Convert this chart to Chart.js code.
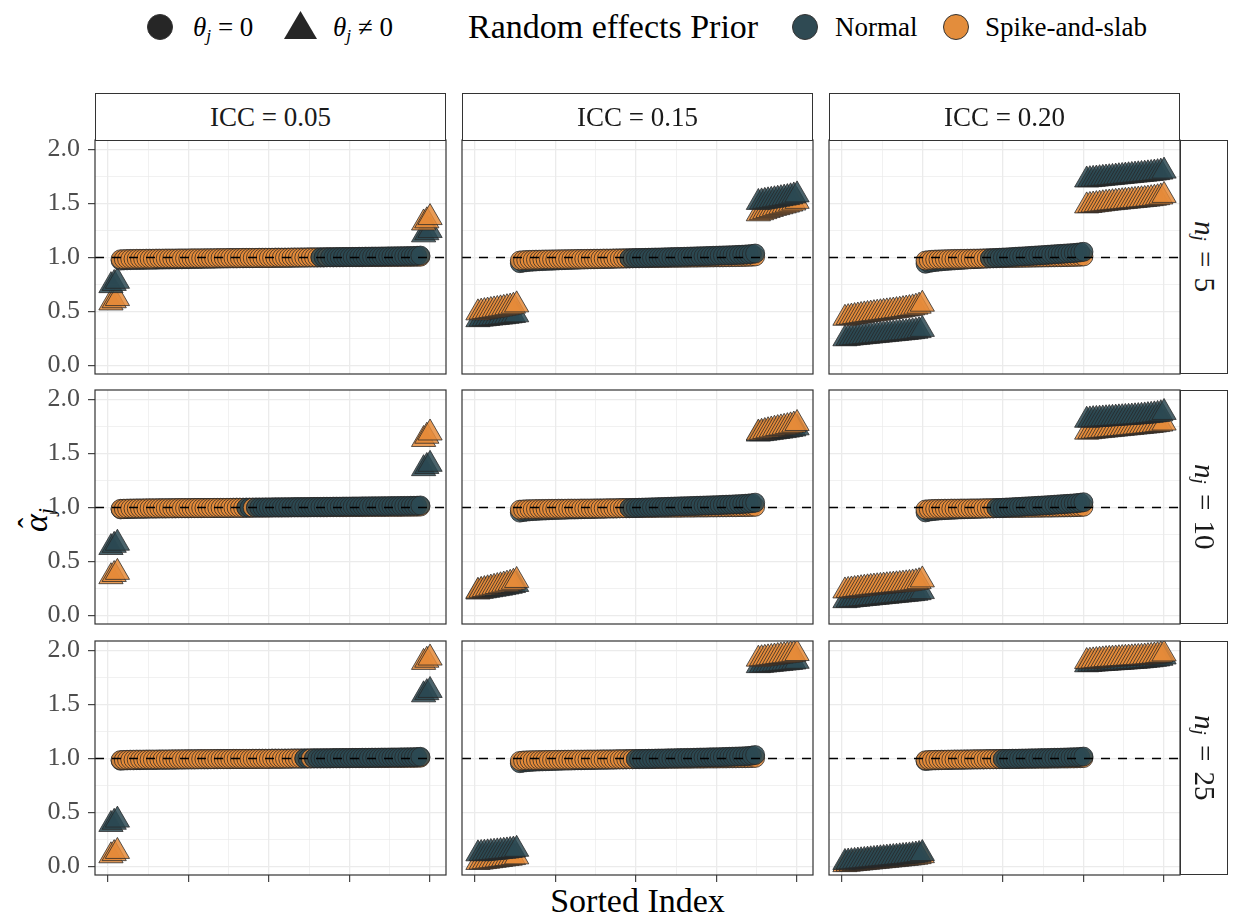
<!DOCTYPE html>
<html>
<head>
<meta charset="utf-8">
<script src="https://cdn.jsdelivr.net/npm/chart.js@4.4.1/dist/chart.umd.min.js"></script>
<style>
  body { margin: 0; background: #fff; }
  #page { position: relative; width: 1233px; height: 919px; overflow: hidden;
          font-family: 'Liberation Serif', 'DejaVu Serif', serif; color: #000; }
  canvas.panel { position: absolute; }
  .strip-top, .strip-right { position: absolute; box-sizing: border-box; border: 1px solid #333;
          background: #fff; display: flex; align-items: center; justify-content: center; color: #1a1a1a; }
  .strip-top { font-size: 27px; }
  .strip-right { font-size: 29px; }
  .strip-right span { writing-mode: vertical-rl; white-space: nowrap; word-spacing: 3px; }
  sub { font-size: 65%; vertical-align: -0.3em; line-height: 0; }
  .lab { position: absolute; top: 0; height: 54px; line-height: 54px; font-size: 27px; white-space: nowrap; }
  .ltitle { position: absolute; top: 0; height: 54px; line-height: 54px; font-size: 34px; white-space: nowrap; }
  .key { position: absolute; box-sizing: border-box; }
  .key.circle { width: 26px; height: 26px; top: 14px; border-radius: 50%; border: 1px solid #333; }
  .key.tri { width: 33px; height: 28px; top: 11px; background: #262626;
             clip-path: polygon(50% 0, 100% 100%, 0 100%); }
  #xtitle { position: absolute; left: 95px; width: 1085px; top: 882px; text-align: center; font-size: 34px; }
  #ytitle { position: absolute; left: 36px; top: 520px; font-size: 34px; white-space: nowrap; line-height: 1;
            transform: translate(-50%, -50%) rotate(-90deg); }
  #ytitle .hat { position: relative; display: inline-block; }
  #ytitle .circ { position: absolute; left: 0.13em; top: -0.12em; font-style: normal; font-size: 0.9em; }
</style>
</head>
<body>
<div id="page">
  <div id="legend">
    <span class="key circle" style="left:147px; background:#262626"></span>
    <span class="lab" style="left:193px"><i>θ<sub>j</sub></i> = 0</span>
    <span class="key tri" style="left:284px"></span>
    <span class="lab" style="left:333px"><i>θ<sub>j</sub></i> ≠ 0</span>
    <span class="ltitle" style="left:468px">Random effects Prior</span>
    <span class="key circle" id="keyNormal" style="left:792px"></span>
    <span class="lab" style="left:835px">Normal</span>
    <span class="key circle" id="keySpike" style="left:943px"></span>
    <span class="lab" style="left:985px">Spike-and-slab</span>
  </div>
  <div id="ytitle"><span class="hat"><i>α</i><span class="circ">ˆ</span></span><sub><i>j</i></sub></div>
  <div id="xtitle">Sorted Index</div>
</div>
<script>
// facets
const ICC_LABELS = ["ICC = 0.05", "ICC = 0.15", "ICC = 0.20"];
const N_LABELS = ["5", "10", "25"];
// number of non-null groups (θj ≠ 0) at the low and high end of each sorted column
const NONNULL_LOW = [3, 13, 25];
const NONNULL_HIGH = [3, 13, 25];

const X_TICKS = [0, 25, 50, 75, 100];
const X_MINOR = [12.5, 37.5, 62.5, 87.5];
const Y_TICKS = [0, 0.5, 1, 1.5, 2];
const Y_MINOR = [0.25, 0.75, 1.25, 1.75];
const REFERENCE_ALPHA = 1;

// sorted alpha_j estimates, index 1..100
const NORMAL_N5_ICC05 = [
  0.74, 0.76, 0.78,
  0.972, 0.974, 0.975, 0.976, 0.977, 0.977, 0.978, 0.978, 0.979, 0.979,
  0.980, 0.980, 0.981, 0.981, 0.982, 0.982, 0.983, 0.983, 0.984, 0.984,
  0.985, 0.985, 0.986, 0.986, 0.987, 0.987, 0.988, 0.988, 0.989, 0.989,
  0.990, 0.990, 0.991, 0.991, 0.992, 0.992, 0.992, 0.993, 0.993, 0.994,
  0.994, 0.994, 0.995, 0.995, 0.995, 0.996, 0.996, 0.996, 0.997, 0.997,
  0.997, 0.998, 0.998, 0.998, 0.999, 0.999, 1.000, 1.000, 1.000, 1.001,
  1.001, 1.001, 1.002, 1.002, 1.003, 1.003, 1.003, 1.004, 1.004, 1.005,
  1.005, 1.005, 1.006, 1.006, 1.007, 1.007, 1.008, 1.008, 1.009, 1.009,
  1.009, 1.010, 1.010, 1.011, 1.011, 1.012, 1.012, 1.013, 1.013, 1.014,
  1.014, 1.015, 1.016, 1.018,
  1.21, 1.23, 1.25
];
const SPIKE_N5_ICC05 = [
  0.58, 0.60, 0.62,
  0.984, 0.985, 0.986, 0.987, 0.987, 0.988, 0.988, 0.988, 0.989, 0.989,
  0.989, 0.990, 0.990, 0.990, 0.991, 0.991, 0.991, 0.991, 0.992, 0.992,
  0.992, 0.992, 0.993, 0.993, 0.993, 0.993, 0.994, 0.994, 0.994, 0.994,
  0.995, 0.995, 0.995, 0.995, 0.996, 0.996, 0.996, 0.996, 0.997, 0.997,
  0.997, 0.997, 0.997, 0.998, 0.998, 0.998, 0.998, 0.998, 0.999, 0.999,
  0.999, 0.999, 0.999, 1.000, 1.000, 1.000, 1.000, 1.000, 1.001, 1.001,
  1.001, 1.001, 1.001, 1.001, 1.002, 1.002, 1.002, 1.002, 1.002, 1.002,
  1.003, 1.003, 1.003, 1.003, 1.003, 1.003, 1.004, 1.004, 1.004, 1.004,
  1.004, 1.004, 1.005, 1.005, 1.005, 1.005, 1.005, 1.006, 1.006, 1.006,
  1.006, 1.007, 1.007, 1.008,
  1.32, 1.34, 1.37
];
const NORMAL_N10_ICC05 = [
  0.63, 0.65, 0.67,
  0.983, 0.985, 0.986, 0.987, 0.987, 0.988, 0.988, 0.989, 0.989, 0.990,
  0.990, 0.990, 0.991, 0.991, 0.991, 0.992, 0.992, 0.992, 0.993, 0.993,
  0.993, 0.993, 0.994, 0.994, 0.994, 0.994, 0.995, 0.995, 0.995, 0.995,
  0.996, 0.996, 0.996, 0.997, 0.997, 0.997, 0.998, 0.998, 0.998, 0.999,
  0.999, 0.999, 1.000, 1.000, 1.000, 1.001, 1.001, 1.001, 1.002, 1.002,
  1.002, 1.003, 1.003, 1.003, 1.004, 1.004, 1.004, 1.005, 1.005, 1.005,
  1.006, 1.006, 1.006, 1.007, 1.007, 1.007, 1.008, 1.008, 1.008, 1.009,
  1.009, 1.009, 1.010, 1.010, 1.010, 1.011, 1.011, 1.011, 1.012, 1.012,
  1.012, 1.013, 1.013, 1.013, 1.014, 1.014, 1.014, 1.015, 1.015, 1.015,
  1.016, 1.016, 1.017, 1.019,
  1.36, 1.38, 1.40
];
const SPIKE_N10_ICC05 = [
  0.36, 0.38, 0.40,
  0.988, 0.989, 0.990, 0.991, 0.991, 0.992, 0.992, 0.992, 0.993, 0.993,
  0.993, 0.993, 0.994, 0.994, 0.994, 0.994, 0.994, 0.995, 0.995, 0.995,
  0.995, 0.995, 0.995, 0.996, 0.996, 0.996, 0.996, 0.996, 0.996, 0.997,
  0.997, 0.997, 0.997, 0.997, 0.997, 0.998, 0.998, 0.998, 0.998, 0.998,
  0.998, 0.999, 0.999, 0.999, 0.999, 0.999, 0.999, 1.000, 1.000, 1.000,
  1.000, 1.000, 1.000, 1.001, 1.001, 1.001, 1.001, 1.001, 1.001, 1.002,
  1.002, 1.002, 1.002, 1.002, 1.002, 1.003, 1.003, 1.003, 1.003, 1.003,
  1.003, 1.004, 1.004, 1.004, 1.004, 1.004, 1.004, 1.005, 1.005, 1.005,
  1.005, 1.005, 1.005, 1.006, 1.006, 1.006, 1.006, 1.006, 1.007, 1.007,
  1.007, 1.008, 1.008, 1.009,
  1.63, 1.66, 1.69
];
const NORMAL_N25_ICC05 = [
  0.39, 0.41, 0.43,
  0.980, 0.982, 0.983, 0.984, 0.984, 0.985, 0.985, 0.986, 0.986, 0.987,
  0.987, 0.987, 0.988, 0.988, 0.988, 0.989, 0.989, 0.989, 0.990, 0.990,
  0.990, 0.991, 0.991, 0.991, 0.992, 0.992, 0.992, 0.992, 0.993, 0.993,
  0.993, 0.994, 0.994, 0.994, 0.994, 0.995, 0.995, 0.995, 0.995, 0.996,
  0.996, 0.996, 0.996, 0.997, 0.997, 0.997, 0.997, 0.998, 0.998, 0.998,
  0.998, 0.999, 0.999, 0.999, 1.000, 1.000, 1.000, 1.001, 1.001, 1.001,
  1.002, 1.002, 1.002, 1.003, 1.003, 1.003, 1.004, 1.004, 1.004, 1.005,
  1.005, 1.005, 1.006, 1.006, 1.006, 1.007, 1.007, 1.007, 1.008, 1.008,
  1.008, 1.009, 1.009, 1.009, 1.010, 1.010, 1.010, 1.011, 1.011, 1.012,
  1.012, 1.013, 1.014, 1.016,
  1.59, 1.61, 1.63
];
const SPIKE_N25_ICC05 = [
  0.10, 0.12, 0.14,
  0.986, 0.987, 0.988, 0.989, 0.989, 0.990, 0.990, 0.990, 0.991, 0.991,
  0.991, 0.991, 0.992, 0.992, 0.992, 0.992, 0.993, 0.993, 0.993, 0.993,
  0.994, 0.994, 0.994, 0.994, 0.994, 0.995, 0.995, 0.995, 0.995, 0.995,
  0.996, 0.996, 0.996, 0.996, 0.996, 0.997, 0.997, 0.997, 0.997, 0.997,
  0.997, 0.998, 0.998, 0.998, 0.998, 0.998, 0.998, 0.999, 0.999, 0.999,
  0.999, 0.999, 0.999, 1.000, 1.000, 1.000, 1.000, 1.000, 1.000, 1.001,
  1.001, 1.001, 1.001, 1.001, 1.001, 1.001, 1.002, 1.002, 1.002, 1.002,
  1.002, 1.002, 1.003, 1.003, 1.003, 1.003, 1.003, 1.003, 1.004, 1.004,
  1.004, 1.004, 1.004, 1.004, 1.005, 1.005, 1.005, 1.005, 1.005, 1.006,
  1.006, 1.006, 1.007, 1.008,
  1.89, 1.91, 1.93
];
const NORMAL_N5_ICC15 = [
  0.425, 0.430, 0.433, 0.436, 0.440, 0.443, 0.446, 0.449, 0.452, 0.456, 0.460, 0.464, 0.470,
  0.948, 0.953, 0.957, 0.960, 0.962, 0.964, 0.966, 0.967, 0.969, 0.970,
  0.971, 0.972, 0.974, 0.975, 0.976, 0.977, 0.978, 0.979, 0.980, 0.981,
  0.982, 0.983, 0.984, 0.984, 0.985, 0.986, 0.987, 0.988, 0.988, 0.989,
  0.990, 0.991, 0.991, 0.992, 0.993, 0.994, 0.995, 0.995, 0.996, 0.997,
  0.998, 0.999, 1.000, 1.000, 1.001, 1.002, 1.003, 1.004, 1.005, 1.006,
  1.006, 1.007, 1.008, 1.009, 1.010, 1.011, 1.012, 1.013, 1.014, 1.015,
  1.016, 1.017, 1.018, 1.019, 1.020, 1.021, 1.022, 1.024, 1.025, 1.026,
  1.028, 1.030, 1.033, 1.037,
  1.510, 1.515, 1.520, 1.525, 1.530, 1.535, 1.540, 1.545, 1.550, 1.555, 1.562, 1.570, 1.580
];
const SPIKE_N5_ICC15 = [
  0.488, 0.495, 0.500, 0.505, 0.510, 0.515, 0.520, 0.525, 0.530, 0.536, 0.542, 0.550, 0.562,
  0.972, 0.975, 0.977, 0.978, 0.979, 0.980, 0.980, 0.981, 0.982, 0.982,
  0.983, 0.983, 0.984, 0.984, 0.985, 0.985, 0.986, 0.986, 0.987, 0.987,
  0.987, 0.988, 0.988, 0.989, 0.989, 0.989, 0.990, 0.990, 0.990, 0.991,
  0.991, 0.991, 0.992, 0.992, 0.992, 0.993, 0.993, 0.993, 0.994, 0.994,
  0.994, 0.995, 0.995, 0.995, 0.996, 0.996, 0.996, 0.997, 0.997, 0.997,
  0.998, 0.998, 0.998, 0.999, 0.999, 0.999, 1.000, 1.000, 1.000, 1.001,
  1.001, 1.002, 1.002, 1.002, 1.003, 1.003, 1.004, 1.004, 1.005, 1.005,
  1.006, 1.007, 1.008, 1.010,
  1.405, 1.415, 1.425, 1.435, 1.445, 1.455, 1.462, 1.470, 1.478, 1.486, 1.495, 1.505, 1.520
];
const NORMAL_N10_ICC15 = [
  0.218, 0.224, 0.229, 0.234, 0.239, 0.244, 0.249, 0.254, 0.259, 0.265, 0.271, 0.278, 0.288,
  0.953, 0.958, 0.962, 0.965, 0.967, 0.969, 0.971, 0.972, 0.973, 0.975,
  0.976, 0.977, 0.978, 0.979, 0.980, 0.981, 0.982, 0.982, 0.983, 0.984,
  0.985, 0.986, 0.986, 0.987, 0.988, 0.989, 0.989, 0.990, 0.991, 0.991,
  0.992, 0.993, 0.994, 0.994, 0.995, 0.996, 0.997, 0.998, 0.999, 1.000,
  1.001, 1.002, 1.003, 1.004, 1.005, 1.006, 1.007, 1.008, 1.009, 1.010,
  1.011, 1.012, 1.013, 1.014, 1.015, 1.016, 1.017, 1.018, 1.019, 1.020,
  1.021, 1.022, 1.023, 1.025, 1.026, 1.027, 1.028, 1.030, 1.031, 1.033,
  1.035, 1.037, 1.040, 1.045,
  1.680, 1.684, 1.688, 1.692, 1.696, 1.700, 1.704, 1.708, 1.712, 1.717, 1.722, 1.728, 1.738
];
const SPIKE_N10_ICC15 = [
  0.226, 0.234, 0.241, 0.248, 0.255, 0.262, 0.269, 0.276, 0.283, 0.291, 0.299, 0.309, 0.325,
  0.980, 0.982, 0.984, 0.985, 0.985, 0.986, 0.986, 0.987, 0.987, 0.988,
  0.988, 0.988, 0.989, 0.989, 0.989, 0.990, 0.990, 0.990, 0.990, 0.991,
  0.991, 0.991, 0.991, 0.992, 0.992, 0.992, 0.992, 0.993, 0.993, 0.993,
  0.993, 0.994, 0.994, 0.994, 0.994, 0.995, 0.995, 0.995, 0.995, 0.996,
  0.996, 0.996, 0.996, 0.997, 0.997, 0.997, 0.997, 0.998, 0.998, 0.998,
  0.998, 0.999, 0.999, 0.999, 0.999, 1.000, 1.000, 1.000, 1.000, 1.001,
  1.001, 1.001, 1.002, 1.002, 1.002, 1.003, 1.003, 1.003, 1.004, 1.004,
  1.004, 1.005, 1.006, 1.007,
  1.690, 1.697, 1.704, 1.711, 1.718, 1.725, 1.731, 1.737, 1.743, 1.749, 1.756, 1.764, 1.778
];
const NORMAL_N25_ICC15 = [
  0.118, 0.121, 0.124, 0.127, 0.130, 0.133, 0.136, 0.139, 0.142, 0.145, 0.149, 0.153, 0.160,
  0.957, 0.962, 0.966, 0.968, 0.970, 0.972, 0.973, 0.974, 0.975, 0.976,
  0.977, 0.978, 0.979, 0.980, 0.981, 0.981, 0.982, 0.983, 0.984, 0.984,
  0.985, 0.986, 0.986, 0.987, 0.988, 0.988, 0.989, 0.989, 0.990, 0.990,
  0.991, 0.992, 0.992, 0.993, 0.994, 0.994, 0.995, 0.996, 0.996, 0.997,
  0.998, 0.998, 0.999, 1.000, 1.000, 1.001, 1.002, 1.002, 1.003, 1.004,
  1.004, 1.005, 1.006, 1.006, 1.007, 1.008, 1.009, 1.009, 1.010, 1.011,
  1.012, 1.012, 1.013, 1.014, 1.015, 1.016, 1.017, 1.018, 1.019, 1.020,
  1.022, 1.024, 1.027, 1.032,
  1.860, 1.863, 1.866, 1.869, 1.872, 1.875, 1.878, 1.881, 1.884, 1.887, 1.890, 1.894, 1.900
];
const SPIKE_N25_ICC15 = [
  0.038, 0.042, 0.046, 0.050, 0.054, 0.058, 0.062, 0.066, 0.070, 0.074, 0.078, 0.083, 0.090,
  0.978, 0.981, 0.983, 0.984, 0.985, 0.985, 0.986, 0.986, 0.987, 0.987,
  0.987, 0.988, 0.988, 0.988, 0.989, 0.989, 0.989, 0.990, 0.990, 0.990,
  0.990, 0.991, 0.991, 0.991, 0.991, 0.992, 0.992, 0.992, 0.992, 0.992,
  0.993, 0.993, 0.993, 0.993, 0.994, 0.994, 0.994, 0.994, 0.995, 0.995,
  0.995, 0.995, 0.996, 0.996, 0.996, 0.996, 0.997, 0.997, 0.997, 0.997,
  0.998, 0.998, 0.998, 0.998, 0.999, 0.999, 0.999, 0.999, 1.000, 1.000,
  1.000, 1.000, 1.001, 1.001, 1.001, 1.002, 1.002, 1.002, 1.003, 1.003,
  1.003, 1.004, 1.005, 1.006,
  1.920, 1.924, 1.928, 1.932, 1.936, 1.940, 1.944, 1.948, 1.952, 1.956, 1.960, 1.965, 1.972
];
const NORMAL_N5_ICC20 = [
  0.248, 0.252, 0.256, 0.259, 0.262, 0.265, 0.268, 0.271, 0.274, 0.277,
  0.280, 0.283, 0.286, 0.289, 0.292, 0.295, 0.298, 0.301, 0.304, 0.307,
  0.310, 0.314, 0.318, 0.324, 0.335,
  0.943, 0.950, 0.955, 0.959, 0.962, 0.965, 0.968, 0.970, 0.972, 0.974,
  0.976, 0.978, 0.980, 0.982, 0.984, 0.985, 0.987, 0.988, 0.990, 0.991,
  0.993, 0.994, 0.996, 0.998, 1.000, 1.001, 1.003, 1.005, 1.007, 1.009,
  1.010, 1.012, 1.014, 1.016, 1.018, 1.020, 1.022, 1.024, 1.026, 1.028,
  1.030, 1.032, 1.034, 1.036, 1.038, 1.040, 1.042, 1.045, 1.048, 1.053,
  1.718, 1.721, 1.724, 1.727, 1.730, 1.733, 1.736, 1.739, 1.742, 1.745,
  1.748, 1.751, 1.754, 1.757, 1.760, 1.763, 1.766, 1.769, 1.772, 1.775,
  1.778, 1.782, 1.786, 1.791, 1.800
];
const SPIKE_N5_ICC20 = [
  0.438, 0.444, 0.449, 0.454, 0.459, 0.464, 0.469, 0.473, 0.477, 0.481,
  0.485, 0.489, 0.493, 0.497, 0.501, 0.505, 0.509, 0.513, 0.518, 0.523,
  0.528, 0.534, 0.541, 0.550, 0.568,
  0.972, 0.976, 0.979, 0.981, 0.982, 0.983, 0.984, 0.985, 0.986, 0.987,
  0.987, 0.988, 0.988, 0.989, 0.989, 0.990, 0.990, 0.991, 0.991, 0.992,
  0.992, 0.993, 0.993, 0.994, 0.994, 0.995, 0.995, 0.996, 0.996, 0.997,
  0.997, 0.998, 0.998, 0.999, 0.999, 1.000, 1.000, 1.001, 1.001, 1.002,
  1.002, 1.003, 1.003, 1.004, 1.004, 1.005, 1.006, 1.007, 1.008, 1.010,
  1.478, 1.482, 1.486, 1.490, 1.494, 1.498, 1.502, 1.505, 1.508, 1.511,
  1.514, 1.517, 1.520, 1.523, 1.526, 1.529, 1.532, 1.535, 1.538, 1.541,
  1.545, 1.549, 1.554, 1.561, 1.575
];
const NORMAL_N10_ICC20 = [
  0.138, 0.142, 0.146, 0.149, 0.152, 0.155, 0.158, 0.161, 0.164, 0.167,
  0.170, 0.173, 0.176, 0.179, 0.182, 0.185, 0.188, 0.191, 0.194, 0.197,
  0.200, 0.203, 0.207, 0.212, 0.222,
  0.955, 0.962, 0.966, 0.969, 0.972, 0.974, 0.976, 0.977, 0.979, 0.980,
  0.982, 0.983, 0.984, 0.985, 0.986, 0.987, 0.988, 0.989, 0.990, 0.991,
  0.992, 0.993, 0.995, 0.996, 0.998, 1.000, 1.001, 1.003, 1.005, 1.006,
  1.008, 1.010, 1.011, 1.013, 1.015, 1.017, 1.018, 1.020, 1.022, 1.024,
  1.026, 1.028, 1.030, 1.032, 1.034, 1.036, 1.038, 1.041, 1.044, 1.049,
  1.808, 1.811, 1.814, 1.816, 1.818, 1.820, 1.822, 1.824, 1.826, 1.828,
  1.830, 1.832, 1.834, 1.836, 1.838, 1.840, 1.842, 1.845, 1.848, 1.851,
  1.854, 1.858, 1.862, 1.868, 1.880
];
const SPIKE_N10_ICC20 = [
  0.228, 0.233, 0.237, 0.241, 0.245, 0.249, 0.253, 0.257, 0.261, 0.264,
  0.267, 0.270, 0.273, 0.276, 0.279, 0.282, 0.285, 0.288, 0.291, 0.294,
  0.298, 0.302, 0.307, 0.314, 0.330,
  0.982, 0.984, 0.986, 0.987, 0.988, 0.988, 0.989, 0.989, 0.990, 0.990,
  0.990, 0.991, 0.991, 0.991, 0.992, 0.992, 0.992, 0.992, 0.993, 0.993,
  0.993, 0.993, 0.994, 0.994, 0.994, 0.995, 0.995, 0.995, 0.996, 0.996,
  0.996, 0.997, 0.997, 0.997, 0.998, 0.998, 0.998, 0.999, 0.999, 0.999,
  1.000, 1.000, 1.001, 1.001, 1.002, 1.002, 1.003, 1.004, 1.005, 1.007,
  1.698, 1.702, 1.706, 1.709, 1.712, 1.715, 1.718, 1.721, 1.724, 1.727,
  1.730, 1.733, 1.736, 1.739, 1.742, 1.745, 1.748, 1.751, 1.754, 1.757,
  1.760, 1.764, 1.768, 1.773, 1.782
];
const NORMAL_N25_ICC20 = [
  0.038, 0.042, 0.045, 0.048, 0.051, 0.054, 0.057, 0.060, 0.063, 0.066,
  0.069, 0.072, 0.075, 0.078, 0.081, 0.084, 0.087, 0.090, 0.093, 0.096,
  0.099, 0.103, 0.107, 0.112, 0.121,
  0.977, 0.980, 0.982, 0.983, 0.984, 0.985, 0.986, 0.987, 0.987, 0.988,
  0.988, 0.989, 0.989, 0.990, 0.990, 0.991, 0.991, 0.992, 0.992, 0.993,
  0.993, 0.994, 0.994, 0.995, 0.996, 0.996, 0.997, 0.998, 0.998, 0.999,
  1.000, 1.000, 1.001, 1.002, 1.002, 1.003, 1.004, 1.004, 1.005, 1.006,
  1.007, 1.007, 1.008, 1.009, 1.010, 1.011, 1.012, 1.013, 1.015, 1.018,
  1.868, 1.871, 1.874, 1.876, 1.878, 1.880, 1.882, 1.884, 1.886, 1.888,
  1.890, 1.892, 1.894, 1.896, 1.898, 1.900, 1.902, 1.905, 1.908, 1.911,
  1.914, 1.918, 1.922, 1.928, 1.940
];
const SPIKE_N25_ICC20 = [
  0.018, 0.022, 0.025, 0.028, 0.031, 0.034, 0.037, 0.040, 0.043, 0.046,
  0.049, 0.052, 0.055, 0.058, 0.061, 0.064, 0.067, 0.070, 0.073, 0.076,
  0.079, 0.083, 0.087, 0.092, 0.101,
  0.984, 0.986, 0.987, 0.988, 0.988, 0.989, 0.989, 0.990, 0.990, 0.991,
  0.991, 0.991, 0.992, 0.992, 0.992, 0.993, 0.993, 0.993, 0.993, 0.994,
  0.994, 0.994, 0.994, 0.995, 0.995, 0.995, 0.995, 0.996, 0.996, 0.996,
  0.996, 0.997, 0.997, 0.997, 0.997, 0.998, 0.998, 0.998, 0.998, 0.999,
  0.999, 0.999, 1.000, 1.000, 1.000, 1.001, 1.001, 1.002, 1.003, 1.004,
  1.898, 1.901, 1.904, 1.907, 1.910, 1.913, 1.916, 1.918, 1.920, 1.922,
  1.924, 1.926, 1.928, 1.930, 1.932, 1.934, 1.936, 1.938, 1.940, 1.943,
  1.946, 1.949, 1.953, 1.958, 1.968
];

// rows = n_j, columns = ICC
const NORMAL_GRID = [
  [NORMAL_N5_ICC05, NORMAL_N5_ICC15, NORMAL_N5_ICC20],
  [NORMAL_N10_ICC05, NORMAL_N10_ICC15, NORMAL_N10_ICC20],
  [NORMAL_N25_ICC05, NORMAL_N25_ICC15, NORMAL_N25_ICC20]
];
const SPIKE_GRID = [
  [SPIKE_N5_ICC05, SPIKE_N5_ICC15, SPIKE_N5_ICC20],
  [SPIKE_N10_ICC05, SPIKE_N10_ICC15, SPIKE_N10_ICC20],
  [SPIKE_N25_ICC05, SPIKE_N25_ICC15, SPIKE_N25_ICC20]
];

// look
const FILL = { normal: "rgba(44, 73, 82, 0.85)", spike: "rgba(229, 139, 58, 0.85)" };
const KEY_FILL = { normal: "#2f4a53", spike: "#e38d3c" };
const EDGE = "rgba(38, 38, 38, 0.85)";
const FONT = "'Liberation Serif', 'DejaVu Serif', serif";

// layout (px)
const COL_LEFT = [95, 462, 829];
const ROW_TOP = [140, 390, 641];
const PANEL_W = 351, PANEL_H = 234;
const AXIS_W = 95, AXIS_H = 30, PAD_T = 10, PAD_R = 10;
const X_LIMITS = [-3.95, 104.95];
const Y_LIMITS = [-0.078, 2.088];

const page = document.getElementById("page");
document.getElementById("keyNormal").style.background = KEY_FILL.normal;
document.getElementById("keySpike").style.background = KEY_FILL.spike;

const panelBorder = {
  id: "panelBorder",
  afterDraw(chart) {
    const { ctx, chartArea: a } = chart;
    ctx.save();
    ctx.strokeStyle = "#333";
    ctx.lineWidth = 1.2;
    ctx.strokeRect(a.left, a.top, a.right - a.left, a.bottom - a.top);
    ctx.restore();
  }
};

function panelPoints(r, c) {
  const pts = [];
  [["normal", NORMAL_GRID[r][c]], ["spike", SPIKE_GRID[r][c]]].forEach(([prior, vals]) => {
    vals.forEach((v, k) => {
      pts.push({ x: k + 1, y: v, prior, nonNull: k < NONNULL_LOW[c] || k >= vals.length - NONNULL_HIGH[c] });
    });
  });
  // drawn in order of the estimate, lowest first
  return pts.sort((a, b) => a.y - b.y);
}

const isMajor = (list, ctx) => ctx.tick && list.includes(ctx.tick.value);

function makeChart(r, c) {
  const canvas = document.createElement("canvas");
  canvas.className = "panel";
  canvas.width = AXIS_W + PANEL_W + PAD_R;
  canvas.height = PAD_T + PANEL_H + AXIS_H;
  canvas.style.left = (COL_LEFT[c] - AXIS_W) + "px";
  canvas.style.top = (ROW_TOP[r] - PAD_T) + "px";
  page.appendChild(canvas);

  const showY = c === 0, showX = r === 2;

  new Chart(canvas.getContext("2d"), {
    type: "scatter",
    data: {
      datasets: [
        {
          type: "line",
          data: [{ x: X_LIMITS[0], y: REFERENCE_ALPHA }, { x: X_LIMITS[1], y: REFERENCE_ALPHA }],
          borderColor: "#000",
          borderWidth: 1.6,
          borderDash: [9, 8],
          pointRadius: 0,
          clip: 0
        },
        {
          data: panelPoints(r, c),
          clip: 0,
          pointBackgroundColor: ctx => ctx.raw ? FILL[ctx.raw.prior] : FILL.normal,
          pointBorderColor: EDGE,
          pointBorderWidth: 0.9,
          pointStyle: ctx => ctx.raw && ctx.raw.nonNull ? "triangle" : "circle",
          pointRadius: ctx => ctx.raw && ctx.raw.nonNull ? 14 : 9.5
        }
      ]
    },
    options: {
      responsive: false,
      animation: false,
      events: [],
      layout: { autoPadding: false, padding: { top: PAD_T, right: PAD_R, left: 0, bottom: 0 } },
      plugins: { legend: { display: false }, tooltip: { enabled: false } },
      scales: {
        x: {
          type: "linear",
          min: X_LIMITS[0],
          max: X_LIMITS[1],
          afterBuildTicks: s => { s.ticks = X_TICKS.concat(X_MINOR).sort((a, b) => a - b).map(v => ({ value: v })); },
          afterFit: s => { s.height = AXIS_H; s.paddingLeft = 0; s.paddingRight = 0; },
          ticks: { display: false, autoSkip: false },
          border: { display: false },
          grid: {
            color: "#ebebeb",
            lineWidth: ctx => isMajor(X_TICKS, ctx) ? 1.3 : 0.7,
            drawTicks: showX,
            tickLength: 7,
            tickColor: ctx => isMajor(X_TICKS, ctx) ? "#333" : "rgba(0,0,0,0)",
            tickWidth: 1.1
          }
        },
        y: {
          type: "linear",
          min: Y_LIMITS[0],
          max: Y_LIMITS[1],
          afterBuildTicks: s => { s.ticks = Y_TICKS.concat(Y_MINOR).sort((a, b) => a - b).map(v => ({ value: v })); },
          afterFit: s => { s.width = AXIS_W; s.paddingTop = 0; s.paddingBottom = 0; },
          ticks: {
            display: showY,
            autoSkip: false,
            padding: 8,
            color: "#4d4d4d",
            font: { family: FONT, size: 26 },
            callback: v => Y_TICKS.includes(v) ? v.toFixed(1) : ""
          },
          border: { display: false },
          grid: {
            color: "#ebebeb",
            lineWidth: ctx => isMajor(Y_TICKS, ctx) ? 1.3 : 0.7,
            drawTicks: showY,
            tickLength: 7,
            tickColor: ctx => isMajor(Y_TICKS, ctx) ? "#333" : "rgba(0,0,0,0)",
            tickWidth: 1.1
          }
        }
      }
    },
    plugins: [panelBorder]
  });
}

for (let r = 0; r < 3; r++) {
  for (let c = 0; c < 3; c++) makeChart(r, c);
}

// facet strips
ICC_LABELS.forEach((lab, c) => {
  const d = document.createElement("div");
  d.className = "strip-top";
  d.style.left = COL_LEFT[c] + "px";
  d.style.top = "93px";
  d.style.width = PANEL_W + "px";
  d.style.height = (ROW_TOP[0] - 93 + 1) + "px";
  d.textContent = lab;
  page.appendChild(d);
});
N_LABELS.forEach((lab, r) => {
  const d = document.createElement("div");
  d.className = "strip-right";
  d.style.left = (COL_LEFT[2] + PANEL_W) + "px";
  d.style.top = ROW_TOP[r] + "px";
  d.style.width = "48px";
  d.style.height = PANEL_H + "px";
  d.innerHTML = "<span><i>n<sub>j</sub></i> = " + lab + "</span>";
  page.appendChild(d);
});
</script>
</body>
</html>
